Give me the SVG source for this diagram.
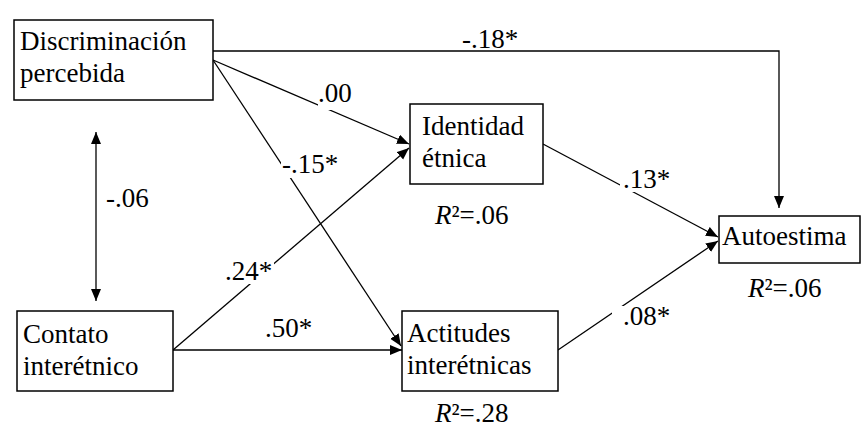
<svg xmlns="http://www.w3.org/2000/svg" width="861" height="429" viewBox="0 0 861 429">
<style>
text{font-family:"Liberation Serif","Times New Roman",Times,"DejaVu Serif",serif;font-size:27px;fill:#000}
.box{fill:#fff;stroke:#000;stroke-width:1.5}
.ln{fill:none;stroke:#000;stroke-width:1.3}
.bg{fill:#fff}
</style>
<defs>
<marker id="ah" markerUnits="userSpaceOnUse" markerWidth="13" markerHeight="11" refX="12" refY="5" orient="auto-start-reverse" viewBox="0 0 13 11">
<path d="M0,0 L12,5 L0,10 z" fill="#000"/>
</marker>
</defs>
<rect width="861" height="429" fill="#fff"/>
<g id="connectors">
<path class="ln" d="M213,51 H779 V208" marker-end="url(#ah)"/>
<line class="ln" x1="213" y1="60" x2="409" y2="144" marker-end="url(#ah)"/>
<line class="ln" x1="213" y1="60" x2="401" y2="346" marker-end="url(#ah)"/>
<line class="ln" x1="173" y1="350" x2="409" y2="148" marker-end="url(#ah)"/>
<line class="ln" x1="173" y1="350" x2="402" y2="350" marker-end="url(#ah)"/>
<line class="ln" x1="543" y1="144" x2="718" y2="237" marker-end="url(#ah)"/>
<line class="ln" x1="558" y1="350" x2="718" y2="241" marker-end="url(#ah)"/>
<line class="ln" x1="96" y1="132" x2="96" y2="301" marker-start="url(#ah)" marker-end="url(#ah)"/>
<rect class="bg" x="454" y="29" width="69" height="21"/>
<text x="462" y="48">-.18*</text>
<rect class="bg" x="318" y="84" width="34" height="26"/>
<text x="318" y="102">.00</text>
<rect class="bg" x="281" y="154" width="60" height="24"/>
<text x="282" y="173">-.15*</text>
<text x="106" y="207">-.06</text>
<rect class="bg" x="224" y="262" width="50" height="22"/>
<text x="225" y="280">.24*</text>
<rect class="bg" x="266" y="318" width="57" height="31"/>
<text x="265" y="337">.50*</text>
<rect class="bg" x="620" y="169" width="51" height="23"/>
<text x="623" y="188">.13*</text>
<rect class="bg" x="612" y="306" width="59" height="24"/>
<text x="623" y="325">.08*</text>
</g>
<g id="discriminacion">
<rect class="box" x="14" y="20" width="199" height="80"/>
<text x="20" y="50">Discriminación</text>
<text x="20" y="82">percebida</text>
</g>
<g id="identidad">
<rect class="box" x="410" y="104" width="133" height="80"/>
<text x="422" y="135">Identidad</text>
<text x="422" y="167">étnica</text>
<text x="435" y="224"><tspan font-style="italic">R</tspan>²=.06</text>
</g>
<g id="contato">
<rect class="box" x="17" y="311" width="156" height="80"/>
<text x="23" y="343">Contato</text>
<text x="23" y="375">interétnico</text>
</g>
<g id="actitudes">
<rect class="box" x="402" y="311" width="156" height="80"/>
<text x="407" y="342">Actitudes</text>
<text x="407" y="374">interétnicas</text>
<text x="435" y="422"><tspan font-style="italic">R</tspan>²=.28</text>
</g>
<g id="autoestima">
<rect class="box" x="719" y="216" width="141" height="47"/>
<text x="722" y="245">Autoestima</text>
<text x="748" y="297"><tspan font-style="italic">R</tspan>²=.06</text>
</g>
</svg>
